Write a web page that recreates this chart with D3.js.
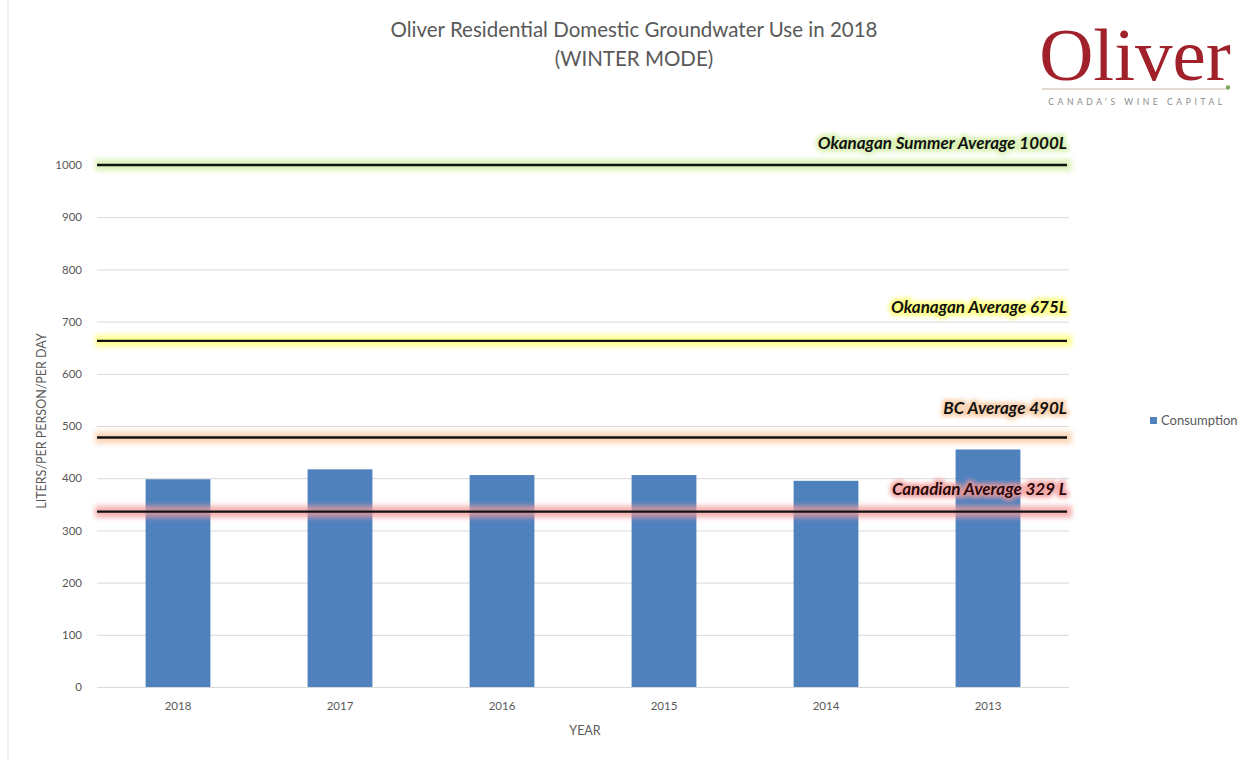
<!DOCTYPE html>
<html>
<head>
<meta charset="utf-8">
<script src="https://cdn.jsdelivr.net/npm/d3@7/dist/d3.min.js"></script>
<style>
  html, body { margin: 0; padding: 0; background: #ffffff; }
  svg { display: block; }
</style>
</head>
<body>
<svg id="chart" width="1249" height="761"></svg>
<script>
// ---- data ----
const years = ["2018", "2017", "2016", "2015", "2014", "2013"];
const consumption = [398, 417, 406, 406, 395, 455];
const yTicks = [0, 100, 200, 300, 400, 500, 600, 700, 800, 900, 1000];
const refLabels = ["Okanagan Summer Average 1000L", "Okanagan Average 675L", "BC Average 490L", "Canadian Average 329 L"];
const refValues = [1000, 663, 478, 336];
const refGlow = ["#d3efa6", "#ffff70", "#f9c9a0", "#f29a9a"];

const titleLines = ["Oliver Residential Domestic Groundwater Use in 2018", "(WINTER MODE)"];
const seriesName = "Consumption";
const xTitle = "YEAR";
const yTitle = "LITERS/PER PERSON/PER DAY";

// ---- layout ----
const svg = d3.select("#chart");
const plotL = 97, plotR = 1069, plotT = 165, plotB = 687;
const barColor = "#4f81bd";
const textGray = "#595959";
const font = "Lato, 'Open Sans', sans-serif";

const defs = svg.append("defs");
defs.append("filter").attr("id", "glow")
  .attr("filterUnits", "userSpaceOnUse")
  .attr("x", 0).attr("y", 0).attr("width", 1249).attr("height", 761)
  .append("feGaussianBlur").attr("stdDeviation", 2.6);
defs.append("filter").attr("id", "glowT")
  .attr("filterUnits", "userSpaceOnUse")
  .attr("x", 0).attr("y", 0).attr("width", 1249).attr("height", 761)
  .append("feGaussianBlur").attr("stdDeviation", 2);

// faint left border
svg.append("line").attr("x1", 8).attr("x2", 8).attr("y1", 0).attr("y2", 761)
  .attr("stroke", "#e6e6e6").attr("stroke-width", 1);

const x = d3.scaleBand().domain(years).range([plotL, plotR]).paddingInner(0.6).paddingOuter(0.3);
const y = d3.scaleLinear().domain([0, 1000]).range([plotB, plotT]);

// gridlines
svg.append("g").selectAll("line").data(yTicks).join("line")
  .attr("x1", plotL).attr("x2", plotR)
  .attr("y1", d => y(d) + 0.5).attr("y2", d => y(d) + 0.5)
  .attr("stroke", "#d9d9d9").attr("stroke-width", 1);

// y axis labels
const yAxis = d3.axisLeft(y).tickValues(yTicks).tickSize(0).tickPadding(15).tickFormat(d3.format("d"));
const gy = svg.append("g").attr("transform", `translate(${plotL},0)`).call(yAxis);
gy.select(".domain").remove();
gy.selectAll("text").attr("fill", textGray).attr("font-family", font).attr("font-size", 11.5);

// x axis labels
const xAxis = d3.axisBottom(x).tickSize(0).tickPadding(15);
const gx = svg.append("g").attr("transform", `translate(0,${plotB})`).call(xAxis);
gx.select(".domain").remove();
gx.selectAll("text").attr("fill", textGray).attr("font-family", font).attr("font-size", 11.5);

// bars
svg.append("g").selectAll("rect").data(consumption).join("rect")
  .attr("x", (d, i) => x(years[i]))
  .attr("width", x.bandwidth())
  .attr("y", d => y(d))
  .attr("height", d => plotB - y(d))
  .attr("fill", barColor);

// reference lines with glow
const refs = svg.append("g");
refValues.forEach((v, i) => {
  refs.append("rect")
    .attr("x", plotL - 2).attr("width", plotR - plotL + 5)
    .attr("y", y(v) - 6).attr("height", 12)
    .attr("fill", refGlow[i]).attr("fill-opacity", 0.75)
    .attr("filter", "url(#glow)");
  refs.append("line")
    .attr("x1", plotL).attr("x2", plotR - 2)
    .attr("y1", y(v)).attr("y2", y(v))
    .attr("stroke", "#111").attr("stroke-width", 2.4);
});

// reference labels
const labelOffsets = [-16, -28, -23, -17];
refValues.forEach((v, i) => {
  const ty = y(v) + labelOffsets[i];
  refs.append("text")
    .attr("x", plotR - 2).attr("y", ty)
    .attr("text-anchor", "end")
    .attr("font-family", font).attr("font-weight", "bold").attr("font-style", "italic")
    .attr("font-size", 17)
    .attr("fill", refGlow[i]).attr("stroke", refGlow[i]).attr("stroke-width", 6)
    .attr("stroke-linejoin", "round").attr("opacity", 0.85)
    .attr("filter", "url(#glowT)")
    .text(refLabels[i]);
  refs.append("text")
    .attr("x", plotR - 2).attr("y", ty)
    .attr("text-anchor", "end")
    .attr("font-family", font).attr("font-weight", "bold").attr("font-style", "italic")
    .attr("font-size", 17)
    .attr("fill", i === 3 ? "#2a0a0a" : "#111")
    .text(refLabels[i]);
});

// title
svg.append("g").selectAll("text").data(titleLines).join("text")
  .attr("x", 634).attr("y", (d, i) => 37 + i * 29)
  .attr("text-anchor", "middle")
  .attr("font-family", font).attr("font-size", 20.5)
  .attr("fill", textGray)
  .text(d => d);

// axis titles
svg.append("text")
  .attr("x", 585).attr("y", 735)
  .attr("text-anchor", "middle")
  .attr("font-family", font).attr("font-size", 12.5).attr("fill", textGray)
  .text(xTitle);
svg.append("text")
  .attr("transform", "translate(46,421) rotate(-90)")
  .attr("text-anchor", "middle")
  .attr("font-family", font).attr("font-size", 12.5).attr("fill", textGray)
  .text(yTitle);

// legend
svg.append("rect").attr("x", 1150).attr("y", 417).attr("width", 7).attr("height", 7).attr("fill", barColor);
svg.append("text").attr("x", 1161).attr("y", 425)
  .attr("font-family", font).attr("font-size", 13).attr("fill", textGray)
  .text(seriesName);

// logo
const logo = svg.append("g");
logo.append("text").attr("x", 1135).attr("y", 80)
  .attr("text-anchor", "middle")
  .attr("font-family", "'Liberation Serif', 'DejaVu Serif', serif").attr("font-size", 75)
  .attr("fill", "#a1212b")
  .text("Oliver");
logo.append("line").attr("x1", 1042).attr("x2", 1226).attr("y1", 89).attr("y2", 89)
  .attr("stroke", "#c9b8a8").attr("stroke-width", 1);
logo.append("circle").attr("cx", 1228).attr("cy", 87.5).attr("r", 2.2).attr("fill", "#7da65a");
logo.append("text").attr("x", 1137).attr("y", 105)
  .attr("text-anchor", "middle")
  .attr("font-family", font).attr("font-size", 8.5).attr("letter-spacing", 3.6)
  .attr("fill", "#8a8a8a")
  .text("CANADA'S WINE CAPITAL");
</script>
</body>
</html>
